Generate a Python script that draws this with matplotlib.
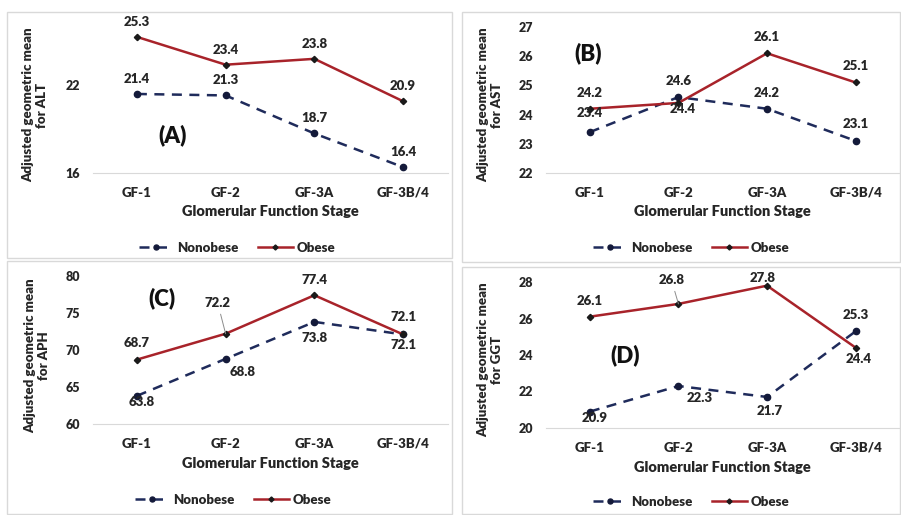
import matplotlib

matplotlib.use("Agg")
import matplotlib.pyplot as plt
from matplotlib.patches import Rectangle

plt.rcParams["font.family"] = ["Lato", "DejaVu Sans"]
plt.rcParams["font.weight"] = "heavy"

W, H = 901, 515

# --- data ---
stages = ["GF-1", "GF-2", "GF-3A", "GF-3B/4"]
series_names = ["Nonobese", "Obese"]

alt_nonobese = [21.4, 21.3, 18.7, 16.4]
alt_obese = [25.3, 23.4, 23.8, 20.9]

ast_nonobese = [23.4, 24.6, 24.2, 23.1]
ast_obese = [24.2, 24.4, 26.1, 25.1]

aph_nonobese = [63.8, 68.8, 73.8, 72.1]
aph_obese = [68.7, 72.2, 77.4, 72.1]

ggt_nonobese = [20.9, 22.3, 21.7, 25.3]
ggt_obese = [26.1, 26.8, 27.8, 24.4]

NAVY = "#1F2B5B"
RED = "#A8232A"
TXT = "#262626"
BORDER = "#D9D9D9"


def fx(x):
    return x / W


def fy(y):
    return 1 - y / H


fig = plt.figure(figsize=(W / 100, H / 100), dpi=100)

# panel frames (x0, y0, x1, y1 in px)
frames = [(7, 12, 452, 258), (462, 12, 900, 262), (7, 261, 452, 514), (462, 267, 900, 514)]
for x0, y0, x1, y1 in frames:
    fig.add_artist(Rectangle((fx(x0), fy(y1)), fx(x1 - x0), (y1 - y0) / H,
                             transform=fig.transFigure, fill=False,
                             edgecolor=BORDER, lw=1.0))

# per-panel layout: axes box px, ylim, ticks, labels, label offsets (px)
panels = [
    dict(box=(92.5, 12, 447.5, 173), ylim=(16, 27), ticks=[16, 22],
         non=alt_nonobese, ob=alt_obese, name="ALT", tag="(A)", tag_xy=(173, 135),
         ylab_xy=(35, 105), xlab_y=212, leg_xy=(237, 248),
         non_off=[(0, 15), (0, 15), (0, 15), (0, 15)],
         ob_off=[(0, 15), (0, 15), (0, 15), (0, 15)], leader=[]),
    dict(box=(545.5, 27, 900, 173), ylim=(22, 27), ticks=[22, 23, 24, 25, 26, 27],
         non=ast_nonobese, ob=ast_obese, name="AST", tag="(B)", tag_xy=(588, 53),
         ylab_xy=(490, 105), xlab_y=212, leg_xy=(691, 248),
         non_off=[(0, 19), (0, 16), (0, 16), (0, 17)],
         ob_off=[(0, 16), (4, -6), (0, 16), (0, 16)], leader=[]),
    dict(box=(92.5, 276, 447.5, 424), ylim=(60, 80), ticks=[60, 65, 70, 75, 80],
         non=aph_nonobese, ob=aph_obese, name="APH", tag="(C)", tag_xy=(162, 298),
         ylab_xy=(37, 356), xlab_y=464, leg_xy=(233, 500),
         non_off=[(5, -6), (17, -13), (0, -16), (0, -11)],
         ob_off=[(0, 17), (-8, 31), (0, 15), (0, 17)], leader=[1]),
    dict(box=(545.5, 282, 900, 428), ylim=(20, 28), ticks=[20, 22, 24, 26, 28],
         non=ggt_nonobese, ob=ggt_obese, name="GGT", tag="(D)", tag_xy=(625, 355),
         ylab_xy=(490, 360), xlab_y=467, leg_xy=(691, 502),
         non_off=[(5, -6), (21, -12), (3, -14), (0, 16)],
         ob_off=[(0, 16), (-7, 24), (-4, 8), (3, -11)], leader=[1]),
]

for p in panels:
    x0, y0, x1, y1 = p["box"]
    ax = fig.add_axes([fx(x0), fy(y1), (x1 - x0) / W, (y1 - y0) / H])
    xs = range(len(stages))
    l1, = ax.plot(xs, p["non"], color=NAVY, lw=1.8, dashes=(4, 3),
                  marker="o", ms=4.5, mfc="#141a3a", mec="#141a3a", label=series_names[0])
    l2, = ax.plot(xs, p["ob"], color=RED, lw=1.8, marker="D", ms=3.2,
                  mfc="#1a1a1a", mec="#1a1a1a", label=series_names[1])
    ax.set_xlim(-0.5, len(stages) - 0.5)
    ax.set_ylim(*p["ylim"])
    ax.set_yticks(p["ticks"])
    ax.set_xticks(list(xs))
    ax.set_xticklabels(stages)
    ax.tick_params(axis="both", length=0, labelsize=9, colors=TXT)
    ax.tick_params(axis="x", labelsize=9.5, pad=10)
    ax.tick_params(axis="y", pad=9)
    for s in ["top", "right", "left"]:
        ax.spines[s].set_visible(False)
    ax.spines["bottom"].set_color(BORDER)
    ax.patch.set_alpha(0)

    for vals, offs, is_ob in [(p["non"], p["non_off"], False), (p["ob"], p["ob_off"], True)]:
        for i, (v, off) in enumerate(zip(vals, offs)):
            kw = {}
            if is_ob and i in p["leader"]:
                kw["arrowprops"] = dict(arrowstyle="-", color="#8c8c8c", lw=0.7,
                                        shrinkA=2, shrinkB=0)
            ax.annotate(f"{v:.1f}", (i, v), xytext=off, textcoords="offset pixels",
                        ha="center", va="center", fontsize=9.5, color=TXT, **kw)

    fig.text(fx(p["tag_xy"][0]), fy(p["tag_xy"][1]), p["tag"], fontsize=16,
             ha="center", va="center", color="#111111")
    fig.text(fx(p["ylab_xy"][0]), fy(p["ylab_xy"][1]),
             "Adjusted geometric mean\nfor " + p["name"], rotation=90, fontsize=9.5,
             ha="center", va="center", multialignment="center", color=TXT,
             linespacing=1.2)
    fig.text(fx((x0 + x1) / 2), fy(p["xlab_y"]), "Glomerular Function Stage",
             fontsize=10.5, ha="center", va="center", color=TXT)
    ax.legend(handles=[l1, l2], loc="center", ncol=2, frameon=False,
              bbox_to_anchor=(fx(p["leg_xy"][0]), fy(p["leg_xy"][1])),
              bbox_transform=fig.transFigure, fontsize=9.5, handlelength=2.6,
              columnspacing=1.5, handletextpad=0.3, labelcolor=TXT,
              markerscale=0.8)

fig.savefig("out.png", dpi=100)
